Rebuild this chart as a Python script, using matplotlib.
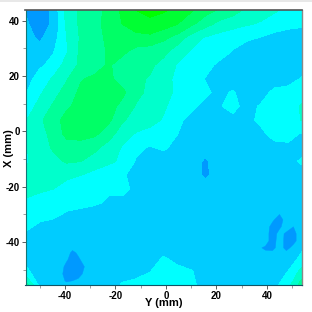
import numpy as np
import matplotlib
matplotlib.use("Agg")
import matplotlib.pyplot as plt
from matplotlib.patches import Rectangle

plt.rcParams['font.family'] = ['Liberation Sans', 'DejaVu Sans']
plt.rcParams['axes.unicode_minus'] = False

x_min, x_max = -55.6, 53.9
y_min, y_max = -55.5, 43.8
x_ticks = [-40, -20, 0, 20, 40]
y_ticks = [-40, -20, 0, 20, 40]
x_minor = [-50, -30, -10, 10, 30, 50]
y_minor = [-50, -30, -10, 10, 30]

band_levels = [-1, 1, 2, 3, 4, 5, 6, 7, 9]
band_colors = ['#0099FF', '#00CCFF', '#00FFFF', '#00FFCC',
               '#00FF99', '#00FF66', '#00FF33', '#00FF00']

r00 = [0.95, 0.5, 1.2, 3.4, 4.2, 4.7, 5.2, 6.2, 7.0, 7.2, 7.1, 6.8, 6.1, 5.4, 4.9, 4.4, 3.8, 3.4, 3.1, 2.8, 2.3]
r01 = [1.1, 0.6, 1.1, 3.2, 4.2, 4.7, 5.3, 6.0, 6.6, 6.8, 6.5, 6.0, 5.2, 4.4, 3.7, 3.4, 3.1, 2.9, 2.6, 2.3, 2.1]
r02 = [1.4, 0.8, 1.5, 3.0, 4.1, 4.6, 5.2, 5.5, 5.6, 5.7, 5.2, 4.6, 3.5, 2.9, 2.6, 2.3, 2.2, 1.95, 1.6, 1.5, 1.7]
r03 = [1.2, 1.3, 1.9, 2.9, 4.2, 4.5, 5.1, 5.2, 4.7, 4.5, 4.3, 3.4, 2.9, 2.4, 2.4, 1.95, 1.4, 1.3, 1.3, 1.3, 1.5]
r04 = [1.4, 1.8, 2.3, 3.4, 4.2, 4.5, 5.1, 4.6, 4.4, 4.2, 3.6, 2.9, 2.6, 2.3, 1.8, 1.3, 1.3, 1.3, 1.3, 1.3, 1.3]
r05 = [1.5, 2.4, 3.1, 3.9, 4.9, 5.2, 5.2, 4.6, 4.2, 3.9, 3.4, 2.7, 2.5, 1.95, 1.3, 1.3, 1.3, 1.3, 1.3, 1.4, 2.1]
r06 = [1.9, 2.8, 3.6, 4.4, 5.2, 5.4, 5.4, 5.2, 4.3, 3.7, 3.3, 2.8, 2.4, 2.2, 1.7, 2.1, 1.4, 1.4, 2.3, 2.5, 2.6]
r07 = [2.3, 3.3, 4.1, 4.8, 5.4, 5.6, 5.4, 4.7, 3.9, 3.4, 3.1, 2.6, 2.2, 1.7, 1.9, 2.3, 1.6, 2.1, 2.4, 2.5, 3.1]
r08 = [2.9, 3.8, 4.5, 5.4, 5.7, 5.8, 5.2, 4.1, 3.6, 3.3, 2.9, 2.2, 1.7, 1.3, 1.6, 1.7, 1.7, 2.2, 2.3, 2.5, 3.05]
r09 = [3.0, 3.6, 4.3, 5.3, 5.5, 5.2, 4.4, 3.5, 2.9, 2.7, 2.3, 2.0, 1.5, 1.3, 1.4, 1.3, 1.6, 1.7, 2.4, 2.3, 1.9]
r10 = [2.9, 3.5, 4.1, 4.5, 4.4, 4.2, 3.6, 2.9, 2.2, 1.9, 2.2, 1.5, 1.3, 1.2, 1.3, 1.3, 1.3, 1.3, 1.6, 1.8, 1.3]
r11 = [2.9, 3.3, 3.7, 4.1, 4.0, 3.6, 3.2, 2.8, 1.9, 1.5, 1.3, 1.3, 1.3, 0.9, 1.3, 1.3, 1.3, 1.3, 1.3, 1.5, 2.2]
r12 = [3.0, 3.3, 3.5, 3.2, 3.0, 2.6, 2.3, 2.1, 1.7, 1.3, 1.3, 1.3, 1.3, 0.85, 1.3, 1.3, 1.3, 1.3, 1.3, 1.3, 1.4]
r13 = [3.2, 3.2, 3.0, 2.6, 2.3, 2.2, 2.1, 2.05, 1.95, 1.3, 1.3, 1.3, 1.3, 1.3, 1.3, 1.3, 1.3, 1.3, 1.3, 1.3, 1.3]
r14 = [2.9, 2.5, 2.4, 2.3, 2.2, 2.1, 1.9, 1.95, 1.4, 1.3, 1.3, 1.3, 1.3, 1.3, 1.3, 1.3, 1.3, 1.3, 1.3, 1.3, 1.3]
r15 = [2.3, 2.2, 2.1, 1.8, 1.7, 1.6, 1.5, 1.4, 1.3, 1.3, 1.3, 1.3, 1.3, 1.3, 1.3, 1.3, 1.3, 1.3, 1.3, 1.3, 1.3]
r16 = [2.05, 1.7, 1.5, 1.4, 1.4, 1.3, 1.3, 1.3, 1.3, 1.3, 1.3, 1.3, 1.3, 1.3, 1.3, 1.3, 1.3, 1.3, 1.3, 1.3, 1.3]
r17 = [1.7, 1.4, 1.3, 1.3, 1.3, 1.3, 1.3, 1.3, 1.3, 1.3, 1.3, 1.3, 1.3, 1.3, 1.3, 1.3, 1.3, 1.3, 1.3, 1.3, 1.7]
r18 = [1.7, 1.4, 1.3, 1.3, 1.3, 1.3, 1.3, 1.3, 1.4, 1.6, 2.05, 1.6, 1.4, 1.3, 1.3, 1.3, 1.3, 1.3, 1.3, 1.4, 2.2]
r19 = [2.2, 1.5, 1.3, 1.3, 1.3, 1.3, 1.3, 1.5, 1.6, 1.95, 2.5, 2.3, 2.05, 1.5, 1.95, 1.6, 1.3, 1.3, 1.3, 2.0, 3.3]
r20 = [4.5, 1.7, 1.3, 1.3, 1.3, 1.3, 1.4, 2.1, 2.3, 2.5, 2.6, 2.5, 2.2, 1.6, 2.0, 2.0, 1.3, 1.3, 1.7, 2.6, 4.5]

z_rows = [r00, r01, r02, r03, r04, r05, r06, r07, r08, r09, r10,
          r11, r12, r13, r14, r15, r16, r17, r18, r19, r20]

# finer readings of the dark streaks in the lower right
spot_x = [36.4, 39.2, 42.0, 44.8, 47.5, 50.3, 53.0]
spot_y = [-26.7, -29.2, -31.8, -34.3, -36.8, -39.4, -41.9, -44.4]
s0 = [1.3, 1.3, 1.3, 1.3, 1.3, 1.3, 1.3]
s1 = [1.3, 1.3, 1.3, 1.1, 1.3, 1.3, 1.3]
s2 = [1.3, 1.3, 1.1, 0.7, 1.3, 1.3, 1.3]
s3 = [1.3, 1.3, 0.8, 0.9, 1.3, 1.0, 1.3]
s4 = [1.1, 1.3, 0.7, 1.2, 0.9, 0.8, 1.3]
s5 = [1.0, 1.3, 0.7, 1.3, 0.8, 0.8, 1.3]
s6 = [1.1, 0.9, 0.8, 1.3, 0.8, 1.2, 1.3]
s7 = [1.3, 1.2, 1.3, 1.3, 1.3, 1.3, 1.3]
spot_rows = [s0, s1, s2, s3, s4, s5, s6, s7]

# finer readings of the dark patch at the lower left
patch_x = [-42.0, -39.6, -37.2, -34.9, -32.5]
patch_y = [-41.2, -43.7, -46.2, -48.7, -51.3, -53.8, -55.5]
p0 = [1.3, 1.3, 1.3, 1.3, 1.3]
p1 = [1.3, 1.3, 0.85, 1.1, 1.3]
p2 = [1.3, 1.1, 0.7, 0.9, 1.2]
p3 = [1.3, 0.8, 0.7, 0.8, 1.0]
p4 = [1.2, 0.7, 0.7, 0.8, 1.1]
p5 = [1.3, 0.9, 1.0, 1.1, 1.3]
p6 = [1.3, 1.3, 1.3, 1.3, 1.3]
patch_rows = [p0, p1, p2, p3, p4, p5, p6]

fig = plt.figure(figsize=(3.12, 3.12), dpi=100, facecolor='white')
ax = fig.add_axes([25.5 / 312, 1 - 285 / 312, 276.5 / 312, 275 / 312])

z = np.array(z_rows)
xs = np.linspace(x_min, x_max, z.shape[1])
ys = np.linspace(y_max, y_min, z.shape[0])
cs = ax.contourf(xs, ys, z, levels=band_levels, colors=band_colors)
cs.set_edgecolor('face')
cs.set_linewidth(0.4)
for gx, gy, rows in [(spot_x, spot_y, spot_rows), (patch_x, patch_y, patch_rows)]:
    c = ax.contourf(gx, gy, np.array(rows), levels=band_levels[:2], colors=band_colors[:1])
    c.set_edgecolor('face')
    c.set_linewidth(0.3)

ax.set_xlim(x_min, x_max)
ax.set_ylim(y_min, y_max)
ax.set_xticks(x_ticks)
ax.set_yticks(y_ticks)
ax.set_xticks(x_minor, minor=True)
ax.set_yticks(y_minor, minor=True)
ax.tick_params(axis='both', which='major', length=3, width=0.6, color='#444444',
               labelsize=7, pad=1.2)
ax.tick_params(axis='both', which='minor', length=2, width=0.5, color='#777777')
for lab in ax.get_xticklabels() + ax.get_yticklabels():
    lab.set_fontweight('bold')
ax.set_xlabel('Y (mm)', fontsize=8, fontweight='bold')
ax.set_ylabel('X (mm)', fontsize=8, fontweight='bold')
ax.xaxis.set_label_coords(0.501, -0.047)
ax.yaxis.set_label_coords(-0.043, 0.498)

ax.spines['top'].set_color('#555555')
ax.spines['top'].set_linewidth(1.2)
ax.spines['right'].set_color('#888888')
ax.spines['right'].set_linewidth(1.0)
ax.spines['left'].set_color('#117777')
ax.spines['left'].set_linewidth(0.8)
ax.spines['bottom'].set_color('#115566')
ax.spines['bottom'].set_linewidth(0.8)

fig.patches.append(Rectangle((0, 1 - 1.5 / 312), 1, 1.5 / 312, transform=fig.transFigure,
                             facecolor='#E8E8E8', edgecolor='none'))
fig.savefig('out.png', dpi=100)
